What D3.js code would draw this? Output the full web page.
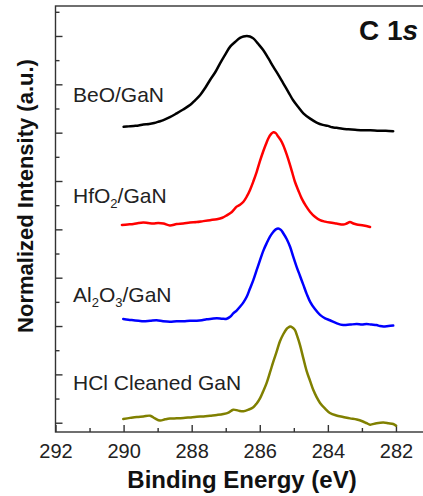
<!DOCTYPE html>
<html>
<head>
<meta charset="utf-8">
<script src="https://cdn.jsdelivr.net/npm/d3@7"></script>
<style>
  html, body { margin: 0; padding: 0; background: #fff; }
  svg { display: block; }
  text { font-family: "Liberation Sans", Arial, Helvetica, sans-serif; }
</style>
</head>
<body>
<div id="chart"></div>
<script>
// ---- data ----
const xTicks = [292, 290, 288, 286, 284, 282];
const xMinorTicks = [291, 289, 287, 285, 283];
const yMajorTicks = [0, 1, 2, 3, 4, 5, 6, 7, 8];
const yMinorTicks = [0.5, 1.5, 2.5, 3.5, 4.5, 5.5, 6.5, 7.5, 8.5];

const seriesNames = ["BeO/GaN", "HfO2/GaN", "Al2O3/GaN", "HCl Cleaned GaN"];
const seriesColors = ["#000000", "#ff0000", "#0000ff", "#808000"];

const beoEnergy = [290.0, 289.85, 289.7, 289.56, 289.42, 289.25, 289.1, 288.96, 288.83, 288.64, 288.44, 288.25, 288.05, 287.9, 287.75, 287.6, 287.46, 287.3, 287.17, 287.02, 286.87, 286.72, 286.58, 286.48, 286.38, 286.29, 286.19, 286.05, 285.90, 285.75, 285.60, 285.45, 285.31, 285.16, 285.02, 284.87, 284.72, 284.52, 284.33, 284.15, 284.0, 283.87, 283.74, 283.57, 283.4, 283.2, 282.96, 282.75, 282.5, 282.3, 282.08];
const beoIntensity = [6.12, 6.13, 6.14, 6.15, 6.17, 6.18, 6.20, 6.23, 6.26, 6.32, 6.40, 6.48, 6.57, 6.67, 6.78, 6.93, 7.09, 7.26, 7.43, 7.61, 7.78, 7.88, 7.96, 7.99, 8.0, 7.99, 7.95, 7.84, 7.71, 7.54, 7.36, 7.19, 7.02, 6.84, 6.67, 6.53, 6.40, 6.29, 6.21, 6.16, 6.14, 6.11, 6.10, 6.08, 6.07, 6.06, 6.05, 6.05, 6.04, 6.04, 6.03];

const hfoEnergy = [290.05, 289.88, 289.71, 289.56, 289.42, 289.28, 289.13, 288.98, 288.83, 288.64, 288.44, 288.25, 288.05, 287.85, 287.66, 287.46, 287.26, 287.1, 286.97, 286.82, 286.68, 286.58, 286.48, 286.38, 286.29, 286.19, 286.09, 286.0, 285.90, 285.82, 285.75, 285.67, 285.60, 285.53, 285.46, 285.38, 285.31, 285.21, 285.11, 285.04, 284.97, 284.87, 284.77, 284.65, 284.52, 284.38, 284.23, 284.08, 283.94, 283.75, 283.55, 283.45, 283.35, 283.25, 283.15, 282.95, 282.76];
const hfoIntensity = [4.09, 4.10, 4.11, 4.13, 4.14, 4.13, 4.12, 4.13, 4.12, 4.08, 4.11, 4.12, 4.14, 4.15, 4.17, 4.19, 4.21, 4.24, 4.29, 4.36, 4.47, 4.51, 4.57, 4.68, 4.81, 4.99, 5.19, 5.40, 5.61, 5.76, 5.88, 5.97, 6.01, 5.99, 5.92, 5.84, 5.74, 5.55, 5.33, 5.16, 4.99, 4.81, 4.64, 4.49, 4.36, 4.26, 4.19, 4.16, 4.14, 4.12, 4.10, 4.12, 4.15, 4.12, 4.10, 4.08, 4.05];

const aloEnergy = [290.01, 289.86, 289.71, 289.56, 289.42, 289.22, 289.03, 288.84, 288.64, 288.44, 288.24, 288.05, 287.85, 287.7, 287.56, 287.41, 287.26, 287.1, 286.97, 286.87, 286.78, 286.68, 286.58, 286.48, 286.38, 286.29, 286.19, 286.09, 285.99, 285.9, 285.80, 285.7, 285.60, 285.53, 285.46, 285.38, 285.31, 285.21, 285.11, 285.02, 284.92, 284.82, 284.72, 284.62, 284.52, 284.38, 284.23, 284.08, 283.94, 283.75, 283.55, 283.35, 283.15, 283.0, 282.86, 282.72, 282.57, 282.47, 282.37, 282.22, 282.08];
const aloIntensity = [2.145, 2.13, 2.12, 2.11, 2.10, 2.11, 2.12, 2.10, 2.09, 2.10, 2.10, 2.11, 2.11, 2.12, 2.14, 2.15, 2.16, 2.15, 2.15, 2.19, 2.26, 2.32, 2.40, 2.49, 2.61, 2.77, 2.95, 3.16, 3.37, 3.55, 3.71, 3.85, 3.95, 4.00, 4.02, 3.99, 3.92, 3.80, 3.64, 3.44, 3.23, 3.04, 2.85, 2.66, 2.50, 2.35, 2.23, 2.16, 2.12, 2.06, 2.02, 2.03, 2.04, 2.03, 2.04, 2.03, 2.02, 2.00, 1.99, 2.00, 2.01];

const hclEnergy = [290.01, 289.81, 289.61, 289.42, 289.22, 289.08, 288.93, 288.78, 288.64, 288.44, 288.24, 288.05, 287.85, 287.65, 287.46, 287.26, 287.07, 286.92, 286.78, 286.63, 286.48, 286.33, 286.19, 286.09, 285.99, 285.9, 285.80, 285.7, 285.60, 285.5, 285.41, 285.31, 285.21, 285.16, 285.11, 285.04, 284.97, 284.9, 284.82, 284.72, 284.62, 284.52, 284.43, 284.33, 284.23, 284.08, 283.94, 283.75, 283.55, 283.35, 283.15, 282.97, 282.86, 282.76, 282.57, 282.37, 282.22, 282.08, 282.0];
const hclIntensity = [0.077, 0.10, 0.12, 0.13, 0.145, 0.09, 0.045, 0.07, 0.087, 0.09, 0.097, 0.11, 0.124, 0.13, 0.145, 0.16, 0.18, 0.21, 0.27, 0.25, 0.236, 0.27, 0.32, 0.40, 0.51, 0.65, 0.82, 1.04, 1.27, 1.48, 1.68, 1.83, 1.94, 1.97, 1.99, 1.97, 1.92, 1.79, 1.61, 1.33, 1.06, 0.86, 0.68, 0.53, 0.41, 0.29, 0.20, 0.15, 0.12, 0.09, 0.066, 0.025, -0.01, -0.04, -0.01, 0.004, -0.01, -0.027, -0.06];

const energies = [beoEnergy, hfoEnergy, aloEnergy, hclEnergy];
const intensities = [beoIntensity, hfoIntensity, aloIntensity, hclIntensity];

// ---- layout ----
const W = 423, H = 496;
const mLeft = 55.5, mRight = 430, mTop = 6, mBottom = 432;

const svg = d3.select("#chart").append("svg").attr("width", W).attr("height", H);

const x = d3.scaleLinear().domain([292, 281]).range([mLeft, mRight]);
const y = d3.scaleLinear().domain([-0.192, 8.62]).range([mBottom, mTop]);

// frame
const axisColor = "#333";
svg.append("rect").attr("x", mLeft).attr("y", mTop).attr("width", mRight - mLeft).attr("height", mBottom - mTop)
  .attr("fill", "none").attr("stroke", axisColor).attr("stroke-width", 1.4);

// x axis ticks (inside)
const xAxis = d3.axisBottom(x).tickValues(xTicks).tickSize(-7).tickPadding(12).tickFormat(d3.format("d"));
const gx = svg.append("g").attr("transform", `translate(0,${mBottom})`).call(xAxis);
gx.select(".domain").remove();
gx.selectAll(".tick line").attr("stroke", axisColor).attr("stroke-width", 1.4);
gx.selectAll(".tick text").attr("font-size", 20).attr("fill", "#222")
  .attr("font-family", '"Liberation Sans", Arial, sans-serif');
const xMinor = d3.axisBottom(x).tickValues(xMinorTicks).tickSize(-4).tickFormat("");
const gxm = svg.append("g").attr("transform", `translate(0,${mBottom})`).call(xMinor);
gxm.select(".domain").remove();
gxm.selectAll(".tick line").attr("stroke", axisColor).attr("stroke-width", 1.4);

// y axis ticks (inside, no labels)
const yAxis = d3.axisLeft(y).tickValues(yMajorTicks).tickSize(-7).tickFormat("");
const gy = svg.append("g").attr("transform", `translate(${mLeft},0)`).call(yAxis);
gy.select(".domain").remove();
gy.selectAll(".tick line").attr("stroke", axisColor).attr("stroke-width", 1.4);
const yMinor = d3.axisLeft(y).tickValues(yMinorTicks).tickSize(-4).tickFormat("");
const gym = svg.append("g").attr("transform", `translate(${mLeft},0)`).call(yMinor);
gym.select(".domain").remove();
gym.selectAll(".tick line").attr("stroke", axisColor).attr("stroke-width", 1.4);

// curves
const line = d3.line().x(d => x(d[0])).y(d => y(d[1])).curve(d3.curveCatmullRom.alpha(0.5));
energies.forEach((es, i) => {
  const pts = es.map((e, j) => [e, intensities[i][j]]);
  svg.append("path").datum(pts).attr("d", line)
    .attr("fill", "none").attr("stroke", seriesColors[i]).attr("stroke-width", 2.5)
    .attr("stroke-linejoin", "round").attr("stroke-linecap", "round");
});

// series labels
const labelX = 73;
const labelFont = 21;
const labelColor = "#222";
function addLabel(parts, baselineY) {
  const t = svg.append("text").attr("x", labelX).attr("y", baselineY)
    .attr("font-size", labelFont).attr("fill", labelColor);
  parts.forEach(p => {
    const ts = t.append("tspan").text(p.t);
    if (p.sub) ts.attr("font-size", 13).attr("dy", 5);
    else if (p.after) ts.attr("dy", -5);
  });
}
addLabel([{t: "BeO/GaN"}], 101.5);
addLabel([{t: "HfO"}, {t: "2", sub: true}, {t: "/GaN", after: true}], 203);
addLabel([{t: "Al"}, {t: "2", sub: true}, {t: "O", after: true}, {t: "3", sub: true}, {t: "/GaN", after: true}], 301.5);
addLabel([{t: "HCl Cleaned GaN"}], 390);

// panel title
const title = svg.append("text").attr("x", 359).attr("y", 40).attr("font-size", 28)
  .attr("font-weight", "bold").attr("fill", "#111");
title.append("tspan").text("C 1");
title.append("tspan").text("s").attr("font-style", "italic");

// axis titles
svg.append("text").attr("x", 242).attr("y", 488).attr("text-anchor", "middle")
  .attr("font-size", 24).attr("font-weight", "bold").attr("fill", "#111")
  .text("Binding Energy (eV)");
svg.append("text").attr("transform", "translate(33,196) rotate(-90)").attr("text-anchor", "middle")
  .attr("font-size", 22).attr("font-weight", "bold").attr("fill", "#111")
  .text("Normalized Intensity (a.u.)");
</script>
</body>
</html>
